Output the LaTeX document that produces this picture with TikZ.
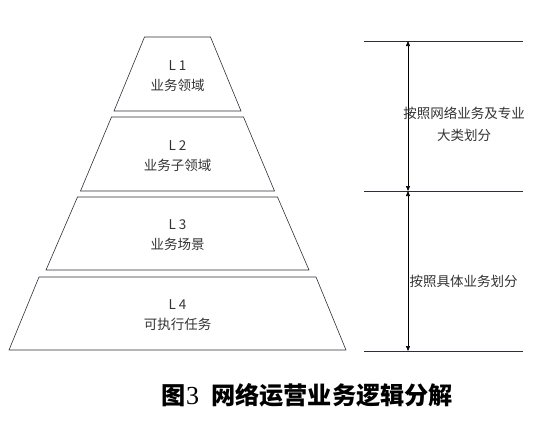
\documentclass[tikz,border=0pt]{standalone}
\usepackage{fontspec}
\setmainfont{Noto Sans CJK SC}
\newfontfamily\digitfont{Liberation Serif}
\usetikzlibrary{arrows.meta}
\definecolor{linegray}{HTML}{2E2E38}
\definecolor{textgray}{HTML}{333333}
\tikzset{
  tierline/.style={draw=linegray,line width=0.6pt},
  tiertext/.style={align=center,text=textgray,font=\fontsize{13.5}{20}\selectfont},
  rangeline/.style={draw=linegray,line width=0.6pt},
  rangearrow/.style={{Triangle[length=5pt,width=4pt]}-{Triangle[length=5pt,width=4pt]},black,line width=0.6pt},
  rangetext/.style={align=center,text=textgray,font=\fontsize{13.5}{22}\selectfont}
}
\begin{document}
\begin{tikzpicture}[x=1pt,y=-1pt]
      \useasboundingbox (0,0) rectangle (540,424);
      % pyramid
      \draw[tierline] (144.5,37) -- (210.5,37) -- (241,111) -- (114,111) -- cycle;
      \node[tiertext] (l1) at (177.5,76) {L 1\\业务领域};
      \draw[tierline] (111.5,117) -- (243.5,117) -- (274.5,191) -- (80.5,191) -- cycle;
      \node[tiertext] (l2) at (177.5,156) {L 2\\业务子领域};
      \draw[tierline] (77.5,197) -- (277.5,197) -- (309,270) -- (46,270) -- cycle;
      \node[tiertext] (l3) at (177.5,235) {L 3\\业务场景};
      \draw[tierline] (39,277) -- (316,277) -- (346,350) -- (9,350) -- cycle;
      \node[tiertext] (l4) at (177.5,315) {L 4\\可执行任务};
      % range marks on the right
      \coordinate (top left) at (364,41);
      \coordinate (top right) at (523,41);
      \coordinate (mid left) at (364,191);
      \coordinate (mid right) at (523,191);
      \coordinate (low left) at (364,351);
      \coordinate (low right) at (523,351);
      \draw[rangeline] (top left) -- (top right);
      \draw[rangeline] (mid left) -- (mid right);
      \draw[rangeline] (low left) -- (low right);
      \coordinate (arrowtop) at (408,41);
      \coordinate (arrowmid) at (408,191);
      \coordinate (arrowlow) at (408,351);
      \draw[rangearrow] (arrowtop) to (arrowmid);
      \draw[rangearrow] (arrowmid) to (arrowlow);
      \node[rangetext] (major) at (464,124) {按照网络业务及专业\\大类划分};
      \node[rangetext] (detail) at (463.5,281) {按照具体业务划分};
      % caption
      \node[font=\fontsize{24.2}{26}\selectfont\bfseries] (caption) at (307.5,395)
      {图{\digitfont\mdseries\fontsize{26}{26}\selectfont 3}\hspace{0.5em}网络运营业务逻辑分解};
    \end{tikzpicture}
\end{document}
